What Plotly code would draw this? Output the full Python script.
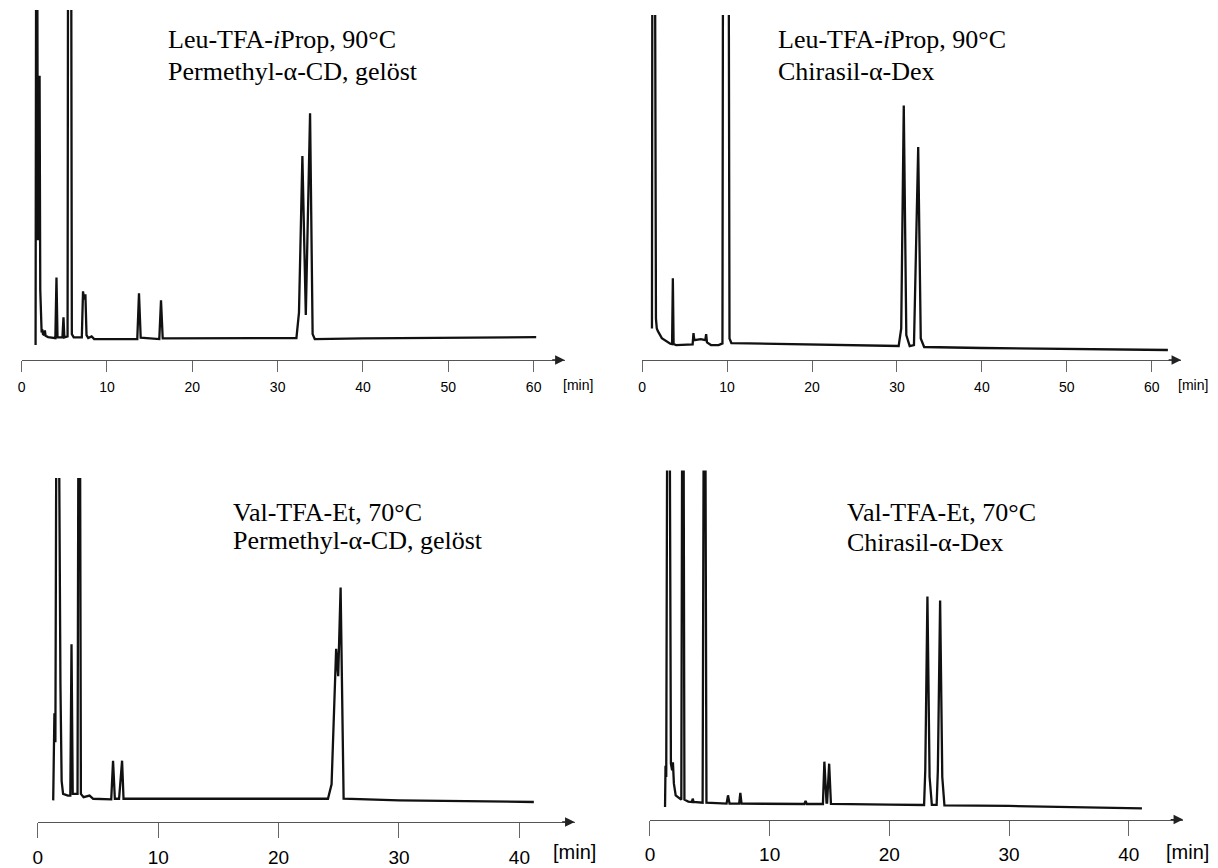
import plotly.graph_objects as go

# The page body has an 8 px margin, so layout pixel positions are measured on the page and shifted.
OFF = 8
W, H = 1218 - OFF, 868 - OFF

# ---------------- data (time in min, detector signal in % of full scale) ----------------
# Top left: Leu-TFA-iProp, 90 °C, Permethyl-alpha-CD (gelöst)
leu_pm_time = [1.63, 1.7, 1.82, 1.9, 1.98, 2.1, 2.18, 2.26, 2.34, 2.4, 2.5, 2.65, 2.72, 2.8, 3.1, 3.95, 4.08, 4.2,
               4.78, 4.9, 5.0, 5.38, 5.44, 5.8, 5.88, 6.1, 7.05, 7.19, 7.33, 7.47, 7.6, 7.8, 8.2, 8.5, 13.55,
               13.75, 13.95, 16.13, 16.33, 16.53, 32.2, 32.5, 32.9, 33.3, 33.8, 34.1, 34.35, 40.0, 50.0, 60.3]
leu_pm_signal = [-1.8, 130, 130, 30, 60, 80, 15, 5, 2.0, 3.0, 1.5, 1.2, 2.6, 1.0, 0.6, 0.3, 18.7, 0.5,
                 0.5, 6.6, 0.5, 0.8, 130, 130, 1.5, 0.5, 0.5, 14.5, 12.0, 13.6, 1.2, 0.3, 0.8, 0.0, 0.0,
                 13.9, 0.4, 0.0, 11.8, 0.2, 0.3, 8.0, 55.6, 7.3, 68.6, 1.5, 0.0, 0.2, 0.4, 0.6]

# Top right: Leu-TFA-iProp, 90 °C, Chirasil-alpha-Dex
leu_cd_time = [1.15, 1.2, 1.5, 1.62, 1.72, 1.85, 2.31, 2.8, 3.3, 3.52, 3.61, 3.7, 4.0, 5.94, 6.04, 6.14, 6.9, 7.43,
               7.53, 7.63, 8.1, 9.0, 9.45, 9.52, 10.18, 10.28, 10.5, 12.5, 20.0, 30.2, 30.5, 30.8, 31.1, 31.5,
               32.0, 32.5, 32.8, 33.2, 40.0, 50.0, 61.9]
leu_cd_signal = [5, 130, 130, 8, 5, 4.2, 2.1, 1.2, 0.4, 0.3, 20.2, 0.3, 0.0, 0.2, 3.6, 1.5, 1.8, 1.5,
                 3.3, 0.8, 0.0, 0.0, 0.5, 130, 130, 2.0, 0.6, 0.5, 0.2, -0.3, 5.0, 72.6, 3.0, -0.3,
                 0.0, 60.0, 2.0, -0.6, -0.9, -1.2, -1.5]

# Bottom left: Val-TFA-Et, 70 °C, Permethyl-alpha-CD (gelöst)
val_pm_time = [1.28, 1.38, 1.46, 1.55, 1.74, 1.82, 1.88, 1.98, 2.1, 2.5, 2.7, 2.8, 2.9, 3.3, 3.38, 3.5, 3.58, 3.8,
               4.3, 4.6, 6.1, 6.25, 6.4, 6.75, 6.85, 7.0, 7.12, 8.0, 12.0, 24.1, 24.4, 24.6, 24.78, 24.95,
               25.15, 25.4, 30.0, 41.2]
val_pm_signal = [0.0, 27, 18, 130, 130, 43, 36, 6, 2, 1.5, 1.5, 48.4, 2, 2, 130, 130, 2, 1,
                 1.5, 0.5, 0.3, 12.3, 0.5, 0.5, 5.5, 12.3, 0.5, 0.5, 0.3, 0.5, 5, 25, 47, 38.5,
                 66, 0.5, 0.0, -0.5]

# Bottom right: Val-TFA-Et, 70 °C, Chirasil-alpha-Dex
val_cd_time = [1.26, 1.3, 1.36, 1.45, 1.64, 1.75, 1.85, 1.92, 2.0, 2.15, 2.5, 2.62, 2.7, 2.8, 2.88, 3.2, 3.5, 3.57,
               3.65, 4.4, 4.5, 4.62, 4.72, 5.5, 6.4, 6.52, 6.65, 7.45, 7.55, 7.65, 12.9, 13.0, 13.1, 14.45,
               14.57, 14.75, 14.8, 14.97, 15.12, 20.0, 22.9, 23.0, 23.18, 23.36, 23.55, 23.95, 24.05, 24.24,
               24.42, 24.6, 30.0, 41.1]
val_cd_signal = [-1, 11.4, 8, 130, 130, 12, 10, 12.4, 6, 2.5, 1.5, 1.2, 130, 130, 1.2, 0.6, 0.5, 1.5,
                 0.5, 0.3, 130, 130, 0.3, 0.2, 0.0, 2.5, 0.0, 0.0, 3.2, 0.0, -0.1, 0.8, -0.1, -0.1,
                 12.6, 0.3, 0.3, 12.0, -0.1, -0.3, -0.4, 10, 62.2, 8, -0.4, -0.4, 10, 61.0,
                 8, -0.5, -0.7, -1.4]

top_ticks = [0, 10, 20, 30, 40, 50, 60]
bottom_ticks = [0, 10, 20, 30, 40]

titles = [
    ("Leu-TFA-<i>i</i>Prop, 90°C", "Permethyl-α-CD, gelöst"),
    ("Leu-TFA-<i>i</i>Prop, 90°C", "Chirasil-α-Dex"),
    ("Val-TFA-Et, 70°C", "Permethyl-α-CD, gelöst"),
    ("Val-TFA-Et, 70°C", "Chirasil-α-Dex"),
]
unit_label = "[min]"

# ---------------- layout geometry (page pixels) ----------------
panels = [
    dict(t=leu_pm_time, s=leu_pm_signal, x0=16.7, ppm=8.568, tip=562, axy=362, top=10, base=341,
         tx=162, ty1=39.5, ty2=71.5, ux=575, uy=387, fs=14, ufs=14, tl=11, ticks=top_ticks),
    dict(t=leu_cd_time, s=leu_cd_signal, x0=639.8, ppm=8.528, tip=1181, axy=362, top=15, base=347,
         tx=774, ty1=39.5, ty2=71.5, ux=1193, uy=387, fs=14, ufs=14, tl=11, ticks=top_ticks),
    dict(t=val_pm_time, s=val_pm_signal, x0=32.9, ppm=12.09, tip=572, axy=826.7, top=480.7, base=805,
         tx=227, ty1=515, ty2=544, ux=572, uy=857, fs=19, ufs=20, tl=15, ticks=bottom_ticks),
    dict(t=val_cd_time, s=val_cd_signal, x0=647.6, ppm=12.02, tip=1183, axy=824.3, top=473.3, base=808.3,
         tx=843, ty1=515, ty2=546, ux=1187, uy=857, fs=19, ufs=20, tl=15, ticks=bottom_ticks),
]


def px(v):
    return (v - OFF) / W


def py(v):
    return 1 - (v - OFF) / H


fig = go.Figure()
annotations = []
layout_axes = {}
for i, p in enumerate(panels):
    n = "" if i == 0 else str(i + 1)
    xa, ya = "x" + n, "y" + n
    fig.add_trace(go.Scatter(x=p["t"], y=p["s"], mode="lines", xaxis=xa, yaxis=ya,
                             line=dict(color="#111111", width=2.3), hoverinfo="skip", showlegend=False))
    xmax = (p["tip"] - p["x0"]) / p["ppm"]
    unit = (p["base"] - p["top"]) / 100.0
    ymin = -(p["axy"] - p["base"]) / unit
    layout_axes["xaxis" + n] = dict(
        domain=[px(p["x0"]), px(p["tip"])], range=[0, xmax], anchor=ya,
        showline=True, linecolor="#555555", linewidth=1.2, ticks="outside", ticklen=p["tl"],
        tickwidth=1, tickcolor="#666666", tickvals=p["ticks"], ticktext=[str(v) for v in p["ticks"]],
        ticklabelstandoff=3,
        tickfont=dict(family="Liberation Sans, Arial, sans-serif", size=p["fs"], color="#000000"),
        showgrid=False, zeroline=False, fixedrange=True)
    layout_axes["yaxis" + n] = dict(
        domain=[py(p["axy"]), py(p["top"])], range=[ymin, 100], anchor=xa,
        visible=False, showgrid=False, zeroline=False, fixedrange=True)
    # axis arrow head
    annotations.append(dict(x=px(p["tip"]), y=py(p["axy"]), xref="paper", yref="paper",
                            ax=-14, ay=0, text="", showarrow=True, arrowhead=2, arrowsize=1.6,
                            arrowwidth=1.2, arrowcolor="#222222", standoff=0))
    # unit label
    annotations.append(dict(x=px(p["ux"]), y=py(p["uy"]), xref="paper", yref="paper",
                            text=unit_label, showarrow=False, xanchor="center", yanchor="middle",
                            font=dict(family="Liberation Sans, Arial, sans-serif", size=p["ufs"], color="#000")))
    # titles
    for line, yy in zip(titles[i], (p["ty1"], p["ty2"])):
        annotations.append(dict(x=px(p["tx"]), y=py(yy), xref="paper", yref="paper", text=line,
                                showarrow=False, xanchor="left", yanchor="middle",
                                font=dict(family="Liberation Serif, Times New Roman, serif", size=26,
                                          color="#000")))

fig.update_layout(width=W, height=H, margin=dict(l=0, r=0, t=0, b=0),
                  paper_bgcolor="white", plot_bgcolor="white", annotations=annotations, **layout_axes)

fig.write_html("out.html")
